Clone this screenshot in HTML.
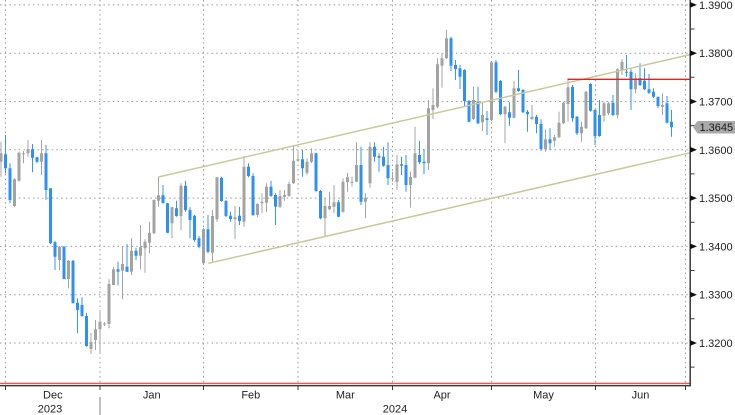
<!DOCTYPE html>
<html><head><meta charset="utf-8"><style>
html,body{margin:0;padding:0;background:#fff;}
svg{display:block;}
text{font-family:"Liberation Sans",sans-serif;font-size:11px;fill:#222;}
</style></head><body>
<svg width="735" height="415" viewBox="0 0 735 415" xmlns="http://www.w3.org/2000/svg">
<rect x="0" y="0" width="735" height="415" fill="#fff"/>
<!-- horizontal gridlines -->
<g stroke="#9a9a9a" stroke-width="1" stroke-dasharray="1.5 3.2" fill="none">
<path d="M0 4.9H690M0 53.2H690M0 101.5H690M0 149.8H690M0 198.1H690M0 246.4H690M0 294.7H690M0 343H690"/>
<path d="M5.5 0V383M100 0V383M203.5 0V383M298 0V383M392.5 0V383M491.5 0V383M595.5 0V383M685.5 0V383"/>
</g>
<!-- candles gray -->
<path fill="none" stroke="#a5a5a5" stroke-width="1" d="M1 141.7V176.7M14.5 178.3V207.3M19 151.7V181.7M23.5 151V163.3M28 140V156.7M41.5 140V175M59.5 246V270M68.5 260V288.3M91 333V354M95.5 320V350M100 310.7V353.3M104.5 322V326M109 279.3V328.3M113.5 266.7V285.3M122.5 246V299.3M131.5 238.3V275M140.5 225V269.3M145 239.3V272.7M149.5 221.7V253.3M154 199.3V234M158.5 176.7V206.7M172 206.7V238.3M181 183.3V230M203.5 228.3V265M212.5 210V261.7M217 176.7V221.7M235 206V239.3M244 156V226.7M257.5 203.3V217.3M262 193.3V213.3M266.5 183.3V211.7M280 190V208.3M284.5 190V200.7M289 181.7V196.7M293.5 145V184M298 150.7V161.7M307 158.3V175M311.5 148.3V163.3M325 198.3V236M329.5 191.7V210M334 185V213.3M343 178.3V212.7M347.5 172.7V191.7M352 176.7V186.7M356.5 142.3V182.3M365.5 193.3V218.3M370 142.3V187.7M392.5 171.7V181.7M397 155V190M410.5 171.7V207.7M415 126.7V178.3M428.5 100V170M433 88.3V119M437.5 58.3V108.3M442 53.3V87.7M446.5 30V59M473.5 86.7V120M482.5 102.3V131M491.5 61V121M505 105.7V143.3M514 81V118.3M532 105V120M545.5 130V151.7M554.5 135V146.7M559 111.7V138.3M563.5 101.7V124M568 78.3V121.7M581.5 121.7V141.7M586 90.7V129M604 101.7V121.7M608.5 101.7V115M617.5 68.3V118.3M622 59.3V75M635.5 73.3V93.3M662.5 93.3V115"/>
<path fill="none" stroke="#a3a3a3" stroke-width="3" d="M1 153.3V161.7M14.5 179.3V206M19 152.7V180.7M23.5 153.3V154.3M28 149.3V153.3M41.5 153.3V161.7M59.5 246.7V260M68.5 260.7V279M91 342V349M95.5 329.3V340M100 321.7V329.3M104.5 323.5V324.5M109 284V324M113.5 269.3V285M122.5 264V270.7M131.5 250.7V271.7M140.5 247.3V255.7M145 241.7V248.3M149.5 232.7V242.7M154 200V233.3M158.5 195.3V200.7M172 207.3V223.3M181 185.7V216M203.5 229.3V263.3M212.5 216V252.7M217 177.3V219.3M235 217.3V219.3M244 166.7V221.7M257.5 204V215M262 201.7V203.3M266.5 186.7V202.7M280 196V206.7M284.5 195V196.7M289 184V196M293.5 160.7V183.3M298 159.3V160.7M307 161.7V172.7M311.5 153.3V161.7M325 206V218.3M329.5 206V209.3M334 202.3V206.7M343 181.7V211.7M347.5 177.3V182.3M352 181.7V182.7M356.5 165V181.7M365.5 197.7V201.7M370 146.7V183.3M392.5 178.3V179.3M397 164.3V181.7M410.5 176.7V185M415 153.3V177.7M428.5 108.3V163.3M433 105V110M437.5 64.3V106.7M442 58.3V65.7M446.5 38.3V58.3M473.5 100V119M482.5 115V122.3M491.5 62.3V120M505 106.7V114.3M514 88.3V117.7M532 116.7V119M545.5 139.3V149.3M554.5 137.3V140.7M559 122.7V137.3M563.5 102.7V123.3M568 87.3V104M581.5 126.7V133.3M586 91.7V128.3M604 103.3V115.7M608.5 103.3V113.3M617.5 69.3V115M622 61.7V70M635.5 78.3V89.3M662.5 105V106.7"/>
<!-- candles blue -->
<path fill="none" stroke="#3796f2" stroke-width="1" d="M5.5 135V173.3M10 163.3V203.3M32.5 144V172.3M37 156.7V163.3M46 145V200M50.5 188.3V244M55 240.7V270M64 246V279.3M73 260V303.3M77.5 298.3V333.3M82 297.3V316.7M86.5 312.7V346.7M118 261.7V285.3M127 244V272M136 247.7V260M163 185V203.3M167.5 202.7V233.3M176.5 200.7V216.7M185.5 180.7V211.7M190 207.3V238.3M194.5 215V241.7M199 236V248.3M208 215V253.3M221.5 176.7V201.7M226 200V217.3M230.5 211.7V221.7M239.5 206.7V225M248.5 163.3V177.3M253 173.3V216M271 180.7V196.7M275.5 193.3V225M302.5 150V176.7M316 152.7V191.7M320.5 190V219.3M338.5 200V217.3M361 146.7V205M374.5 142.3V161.7M379 153.3V171.7M383.5 146.7V166.7M388 142.3V185M401.5 156.7V175M406 155V191.7M419.5 141V164.3M424 149V174.3M451 36.7V71M455.5 60V80M460 65V89M464.5 69.3V106.7M469 100V122.3M478 86.7V124.3M487 111V135M496 60V93.3M500.5 80V115M509.5 102.3V125.7M518.5 70V91.7M523 89V113.3M527.5 110V131.7M536.5 115V133.3M541 119.3V150.7M550 128.3V150M572.5 85V121.7M577 116V135M590.5 83.3V111.7M595 109.3V145M599.5 100V136.7M613 95V116M626.5 55V76.7M631 69.3V110M640 63.3V86M644.5 68.3V90M649 74V94M653.5 88.3V98.3M658 96.7V108.3M667 96V123.3M671.5 110V136.7"/>
<path fill="none" stroke="#2f90f3" stroke-width="3" d="M5.5 154.3V168.3M10 168.3V200M32.5 149.3V157.7M37 157.3V161.7M46 153.3V190M50.5 188.3V243.3M55 242.3V256.7M64 246.7V279M73 260.7V303.3M77.5 302.7V310M82 305V316M86.5 316V346M118 269.3V271.7M127 266.7V271.7M136 250.7V255.7M163 195.3V203.3M167.5 203.3V232.7M176.5 208.3V216M185.5 185.7V210M190 210V220M194.5 215.7V240M199 238.3V246.7M208 229.3V251.7M221.5 177.7V201M226 201V216M230.5 215.7V219M239.5 215.7V221M248.5 166.7V176M253 176V215M271 186.7V196M275.5 195V206.7M302.5 159.3V168.3M316 153.3V191M320.5 191V218.3M338.5 202.3V216.7M361 165V201.7M374.5 146.7V156.7M379 156V157.7M383.5 156.7V165.7M388 165V178.3M401.5 164.3V165.7M406 165V185M419.5 155V162.3M424 161.7V163.3M451 38.3V65.7M455.5 65V69M460 68.3V76.7M464.5 70V101M469 101V121.7M478 101.7V123.3M487 118.3V120M496 62.3V91.7M500.5 81V114.3M509.5 112.3V117.7M518.5 88.3V91M523 90V112.3M527.5 111.7V114.3M536.5 116.7V124M541 124V149.3M550 139.3V143.3M572.5 86.7V118.3M577 116.7V133.3M590.5 84V110.7M595 110V136M599.5 115V136M613 102.7V115M626.5 71.7V72.7M631 71.7V89.3M640 78.3V85M644.5 80.7V89.3M649 89.3V92.7M653.5 91.7V96.7M658 96.7V106M667 103.3V122.7M671.5 121.7V127.3"/>
<!-- channel lines -->
<g stroke="#c9c99c" stroke-width="1.5" fill="none">
<line x1="158.5" y1="177" x2="690" y2="54.6"/>
<line x1="208.3" y1="263.3" x2="690" y2="152.8"/>
</g>
<!-- red lines -->
<line x1="567.5" y1="79.3" x2="690" y2="79.3" stroke="#e02424" stroke-width="1.3"/>
<line x1="0" y1="383.3" x2="690" y2="383.3" stroke="#e02424" stroke-width="1"/>
<!-- axes -->
<line x1="0" y1="385.6" x2="691" y2="385.6" stroke="#3a3a3a" stroke-width="1.5"/>
<line x1="690.2" y1="0" x2="690.2" y2="386.3" stroke="#3a3a3a" stroke-width="1.5"/>
<!-- x ticks -->
<path stroke="#3a3a3a" stroke-width="1" d="M5.5 386V390M100 386V390M203.5 386V390M298 386V390M392.5 386V390M491.5 386V390M595.5 386V390M685.5 386V390"/>
<!-- year separator -->
<line x1="100" y1="397" x2="100" y2="415" stroke="#c0c0c0" stroke-width="2"/>
<!-- y minor ticks -->
<path stroke="#3a3a3a" stroke-width="1" d="M690 29H694.5M690 77.3H694.5M690 125.6H694.5M690 173.9H694.5M690 222.2H694.5M690 270.5H694.5M690 318.8H694.5M690 367.1H694.5"/>
<!-- y major tick triangles -->
<g fill="#111">
<polygon points="690,2 697,4.9 690,7.8"/>
<polygon points="690,50.3 697,53.2 690,56.1"/>
<polygon points="690,98.6 697,101.5 690,104.4"/>
<polygon points="690,146.9 697,149.8 690,152.7"/>
<polygon points="690,195.2 697,198.1 690,201"/>
<polygon points="690,243.5 697,246.4 690,249.3"/>
<polygon points="690,291.8 697,294.7 690,297.6"/>
<polygon points="690,340.1 697,343 690,345.9"/>
</g>
<!-- y labels -->
<text x="699" y="8.9">1.3900</text>
<text x="699" y="57.2">1.3800</text>
<text x="699" y="105.5">1.3700</text>
<text x="699" y="153.8">1.3600</text>
<text x="699" y="202.1">1.3500</text>
<text x="699" y="250.4">1.3400</text>
<text x="699" y="298.7">1.3300</text>
<text x="699" y="347">1.3200</text>
<!-- current price label -->
<polygon points="693,127 697.5,121 735,121 735,133.5 697.5,133.5" fill="#a9a9a9"/>
<text x="699.5" y="131.2" style="fill:#1a1a1a">1.3645</text>
<!-- x labels -->
<g text-anchor="middle">
<text x="52.8" y="398.5">Dec</text>
<text x="151.8" y="398.5">Jan</text>
<text x="250.8" y="398.5">Feb</text>
<text x="345.3" y="398.5">Mar</text>
<text x="442" y="398.5">Apr</text>
<text x="543.5" y="398.5">May</text>
<text x="640.5" y="398.5">Jun</text>
<text x="50" y="412.5">2023</text>
<text x="395" y="412.5">2024</text>
</g>
</svg>
</body></html>
